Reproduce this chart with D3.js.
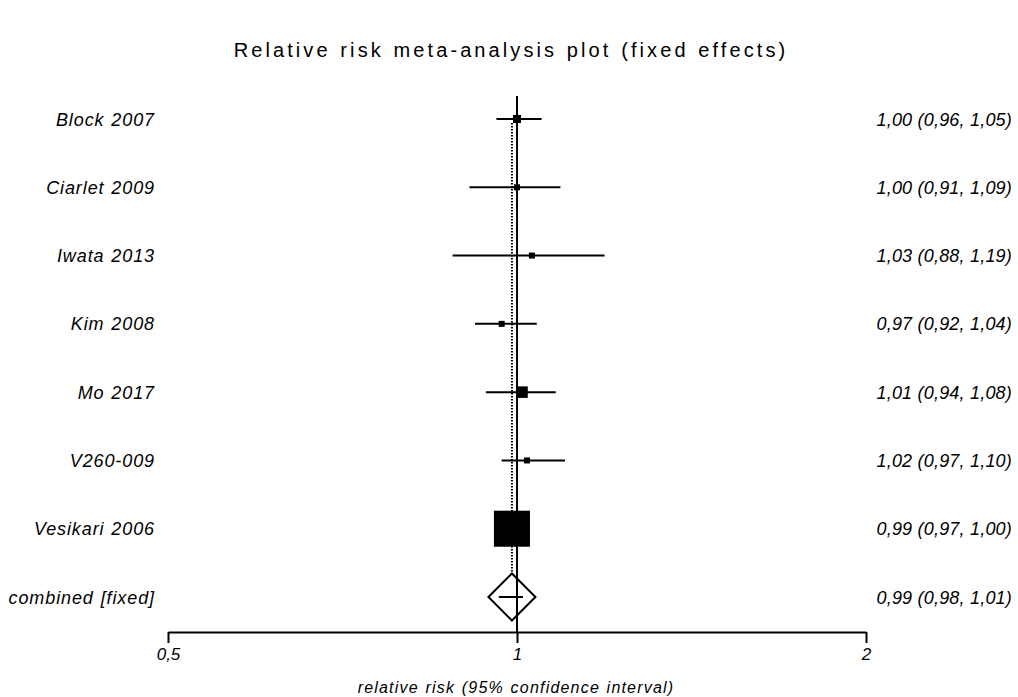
<!DOCTYPE html>
<html>
<head>
<meta charset="utf-8">
<script src="https://cdn.jsdelivr.net/npm/d3@7"></script>
<style>
  html, body { margin: 0; padding: 0; background: #fff; }
  svg { display: block; font-family: "Liberation Sans", Arial, sans-serif; }
</style>
</head>
<body>
<svg id="chart" width="1018" height="697"></svg>
<script>
// Study data for the fixed-effects relative-risk forest plot
const studies   = ["Block 2007", "Ciarlet 2009", "Iwata 2013", "Kim 2008", "Mo 2017", "V260-009", "Vesikari 2006"];
const estimates = [1.00, 1.00, 1.03, 0.97, 1.01, 1.02, 0.99];
const lowers    = [0.96, 0.91, 0.88, 0.92, 0.94, 0.97, 0.97];
const uppers    = [1.05, 1.09, 1.19, 1.04, 1.08, 1.10, 1.00];
const weights   = [3.9, 2.2, 2.2, 2.2, 8.1, 2.2, 79.2];   // % weight (box area)

const pooledLabel = "combined [fixed]";
const pooled      = [0.99, 0.98, 1.01];                  // estimate, lower, upper

const tickValues = [0.5, 1, 2];
const tickLabels = ["0,5", "1", "2"];

const fmt = v => v.toFixed(2).replace(".", ",");

const svg = d3.select("#chart");
const ink = "#000";

const x = d3.scaleLog().domain([0.5, 2]).range([168, 866]);
const rows = studies.concat([pooledLabel]);
const y = d3.scalePoint().domain(rows).range([119, 597]);
const axisY = 632;

// title
svg.append("text")
  .attr("x", 511).attr("y", 57)
  .attr("text-anchor", "middle")
  .style("font-size", "20px")
  .style("letter-spacing", "3.1px")
  .style("word-spacing", "1px")
  .text("Relative risk meta-analysis plot (fixed effects)");

// line of no effect
svg.append("line")
  .attr("x1", x(1)).attr("x2", x(1))
  .attr("y1", 96).attr("y2", axisY)
  .attr("stroke", ink).attr("stroke-width", 2);

// pooled estimate reference (dotted)
svg.append("line")
  .attr("x1", x(pooled[0])).attr("x2", x(pooled[0]))
  .attr("y1", 123).attr("y2", y(pooledLabel) - 23)
  .attr("stroke", ink).attr("stroke-width", 2)
  .attr("stroke-dasharray", "1.5,1.5");

// confidence intervals and weighted boxes
const g = svg.append("g");
studies.forEach((s, i) => {
  g.append("line")
    .attr("x1", x(lowers[i])).attr("x2", x(uppers[i]))
    .attr("y1", y(s)).attr("y2", y(s))
    .attr("stroke", ink).attr("stroke-width", 2);
  const side = Math.sqrt(weights[i]) * 4.05;
  g.append("rect")
    .attr("x", x(estimates[i]) - side / 2)
    .attr("y", y(s) - side / 2)
    .attr("width", side).attr("height", side)
    .attr("fill", ink);
});

// pooled diamond
const cy = y(pooledLabel), cx = x(pooled[0]), hw = 23.5, hh = 23.5;
svg.append("path")
  .attr("d", `M${cx - hw},${cy} L${cx},${cy - hh} L${cx + hw},${cy} L${cx},${cy + hh} Z`)
  .attr("fill", "#fff").attr("stroke", ink).attr("stroke-width", 2);
svg.append("line")
  .attr("x1", x(pooled[1]) - 8).attr("x2", x(pooled[2]) + 1)
  .attr("y1", cy).attr("y2", cy)
  .attr("stroke", ink).attr("stroke-width", 2);

// redraw reference line over the diamond fill
svg.append("line")
  .attr("x1", x(1)).attr("x2", x(1))
  .attr("y1", cy - hh).attr("y2", axisY)
  .attr("stroke", ink).attr("stroke-width", 2);

// row labels (left) and estimate text (right)
rows.forEach((r, i) => {
  svg.append("text")
    .attr("x", 155).attr("y", y(r) + 6.5)
    .attr("text-anchor", "end")
    .style("font-size", "18px")
    .style("font-style", "italic")
    .style("letter-spacing", "0.9px")
    .style("word-spacing", "1px")
    .text(r);
  const vals = i < studies.length ? [estimates[i], lowers[i], uppers[i]] : pooled;
  svg.append("text")
    .attr("x", 1012).attr("y", y(r) + 6.5)
    .attr("text-anchor", "end")
    .style("font-size", "18px")
    .style("font-style", "italic")
    .style("letter-spacing", "0.2px")
    .text(`${fmt(vals[0])} (${fmt(vals[1])}, ${fmt(vals[2])})`);
});

// x axis
const axis = d3.axisBottom(x)
  .tickValues(tickValues)
  .tickFormat((d, i) => tickLabels[i])
  .tickSize(11)
  .tickSizeOuter(0);
const ax = svg.append("g")
  .attr("transform", `translate(0,${axisY})`)
  .call(axis);
ax.select(".domain").attr("stroke", ink).attr("stroke-width", 2);
ax.selectAll(".tick line").attr("stroke", ink).attr("stroke-width", 2);
ax.selectAll(".tick text")
  .attr("y", 16)
  .style("font-family", "\"Liberation Sans\", Arial, sans-serif")
  .style("font-size", "17px")
  .style("font-style", "italic")
  .attr("fill", ink);

// axis title
svg.append("text")
  .attr("x", 516).attr("y", 693)
  .attr("text-anchor", "middle")
  .style("font-size", "16px")
  .style("font-style", "italic")
  .style("letter-spacing", "1.2px")
  .style("word-spacing", "1px")
  .text("relative risk (95% confidence interval)");
</script>
</body>
</html>
